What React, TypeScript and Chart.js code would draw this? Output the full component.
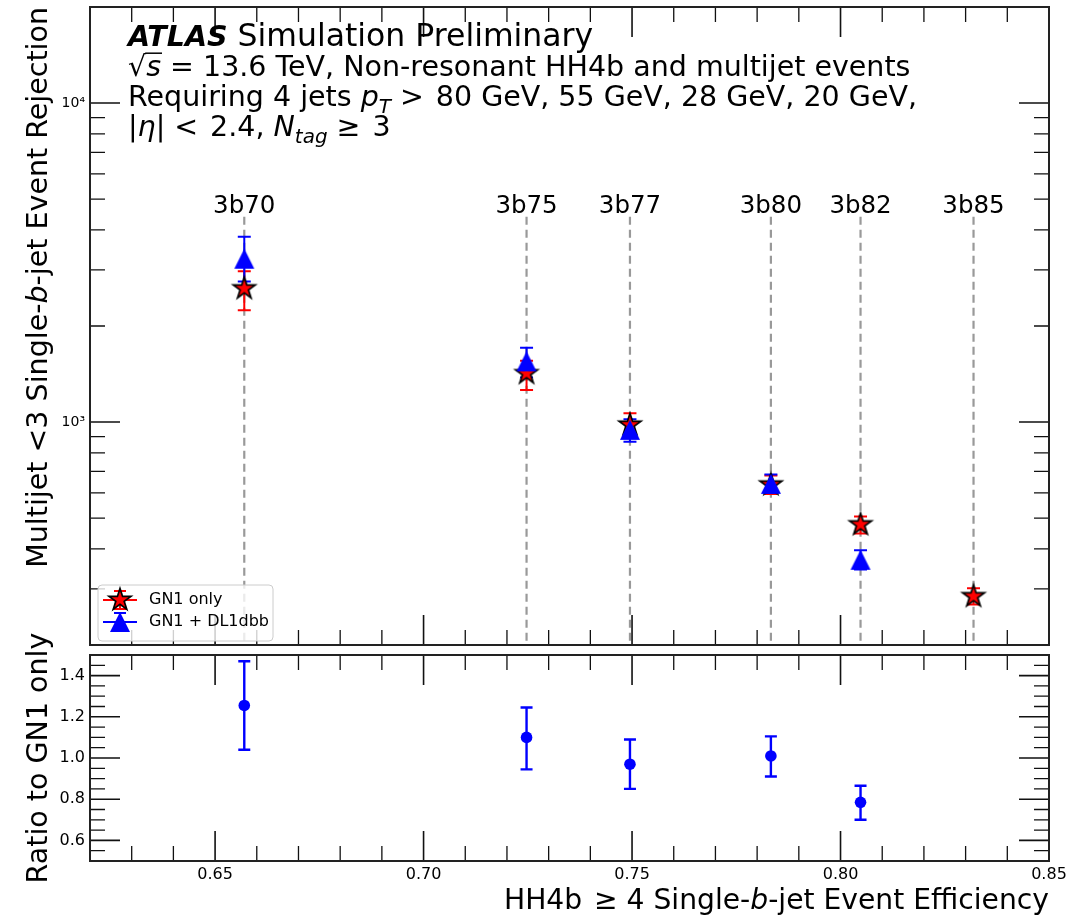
import { useEffect, useRef } from 'react';
import { Chart, registerables } from 'chart.js';

Chart.register(...registerables);

const WIDTH = 1081;
const HEIGHT = 917;
const FONT = '"DejaVu Sans", "Liberation Sans", sans-serif';

// Working points (HH4b efficiency on x, multijet rejection on y)
const wpLabels = ['3b70', '3b75', '3b77', '3b80', '3b82', '3b85'];
const wpEfficiency = [0.657, 0.7247, 0.7495, 0.7833, 0.8048, 0.8319];

const gn1Rejection = [2620, 1420, 980, 636, 477, 284];
const gn1Low = [2240, 1260, 905, 595, 447, 268];
const gn1High = [2970, 1555, 1065, 680, 506, 301];

const dl1Rejection = [3250, 1550, 945, 640, 370];
const dl1Low = [2760, 1380, 868, 600, 345];
const dl1High = [3810, 1710, 1020, 685, 396];

const ratioValues = [1.255, 1.1, 0.97, 1.01, 0.785];
const ratioLow = [1.04, 0.945, 0.85, 0.91, 0.7];
const ratioHigh = [1.47, 1.245, 1.09, 1.105, 0.865];

// Axis ticks
const xMajorTicks = [0.65, 0.7, 0.75, 0.8, 0.85];
const xMinorTicks = [0.63, 0.64, 0.66, 0.67, 0.68, 0.69, 0.71, 0.72, 0.73, 0.74, 0.76, 0.77, 0.78, 0.79, 0.81, 0.82, 0.83, 0.84];
const rejMajorTicks = [1000, 10000];
const rejMinorTicks = [300, 400, 500, 600, 700, 800, 900, 2000, 3000, 4000, 5000, 6000, 7000, 8000, 9000];
const ratioMajorTicks = [0.6, 0.8, 1.0, 1.2, 1.4];
const ratioMinorTicks = [0.55, 0.65, 0.7, 0.75, 0.85, 0.9, 0.95, 1.05, 1.1, 1.15, 1.25, 1.3, 1.35, 1.45];

const wpLineTop = 4400;

type Run = { t: string; style?: string; sub?: boolean; over?: boolean; size?: number };

function runSize(size: number, r: Run) {
  const base = r.size ?? size;
  return r.sub ? base * 0.7 : base;
}

function runFont(size: number, r: Run) {
  return `${r.style ?? 'normal'} ${runSize(size, r)}px ${FONT}`;
}

function measureRuns(ctx: CanvasRenderingContext2D, runs: Run[], size: number) {
  let w = 0;
  for (const r of runs) {
    ctx.font = runFont(size, r);
    w += ctx.measureText(r.t).width;
  }
  return w;
}

function drawRuns(ctx: CanvasRenderingContext2D, runs: Run[], x: number, y: number, size: number) {
  let cx = x;
  for (const r of runs) {
    ctx.font = runFont(size, r);
    const dy = r.sub ? size * 0.24 : 0;
    ctx.fillText(r.t, cx, y + dy);
    const w = ctx.measureText(r.t).width;
    if (r.over) {
      ctx.save();
      ctx.lineWidth = 1.5;
      ctx.strokeStyle = ctx.fillStyle as string;
      ctx.beginPath();
      ctx.moveTo(cx - 1, y - size * 0.8);
      ctx.lineTo(cx + w + 1, y - size * 0.8);
      ctx.stroke();
      ctx.restore();
    }
    cx += w;
  }
}

function makeStar(): HTMLCanvasElement {
  const c = document.createElement('canvas');
  c.width = 30;
  c.height = 30;
  const g = c.getContext('2d')!;
  const R = 11.5;
  const r = R * 0.381966;
  g.beginPath();
  for (let i = 0; i < 10; i++) {
    const a = -Math.PI / 2 + (i * Math.PI) / 5;
    const rad = i % 2 === 0 ? R : r;
    const px = 15 + rad * Math.cos(a);
    const py = 15 + rad * Math.sin(a);
    if (i === 0) g.moveTo(px, py);
    else g.lineTo(px, py);
  }
  g.closePath();
  g.fillStyle = '#ff0000';
  g.fill();
  g.lineWidth = 1.7;
  g.strokeStyle = '#000000';
  g.stroke();
  return c;
}

function makeTriangle(): HTMLCanvasElement {
  const c = document.createElement('canvas');
  c.width = 24;
  c.height = 24;
  const g = c.getContext('2d')!;
  g.beginPath();
  g.moveTo(12, 2);
  g.lineTo(2, 22);
  g.lineTo(22, 22);
  g.closePath();
  g.fillStyle = '#0000ff';
  g.fill();
  return c;
}

function drawFrameAndTicks(chart: any, yMajor: number[], yMinor: number[]) {
  const ctx: CanvasRenderingContext2D = chart.ctx;
  const { left, right, top, bottom } = chart.chartArea;
  const xs = chart.scales.x;
  const ys = chart.scales.y;
  ctx.save();
  ctx.strokeStyle = '#111';
  const tick = (vals: number[], len: number, lw: number) => {
    ctx.lineWidth = lw;
    ctx.beginPath();
    for (const v of vals) {
      const px = xs.getPixelForValue(v);
      ctx.moveTo(px, bottom);
      ctx.lineTo(px, bottom - len);
      ctx.moveTo(px, top);
      ctx.lineTo(px, top + len);
    }
    ctx.stroke();
  };
  const tickY = (vals: number[], len: number, lw: number) => {
    ctx.lineWidth = lw;
    ctx.beginPath();
    for (const v of vals) {
      const py = ys.getPixelForValue(v);
      ctx.moveTo(left, py);
      ctx.lineTo(left + len, py);
      ctx.moveTo(right, py);
      ctx.lineTo(right - len, py);
    }
    ctx.stroke();
  };
  tick(xMajorTicks, 30, 1.6);
  tick(xMinorTicks, 15, 1.3);
  tickY(yMajor, 30, 1.6);
  tickY(yMinor, 15, 1.3);
  ctx.lineWidth = 2;
  ctx.strokeStyle = '#222';
  ctx.strokeRect(left, top, right - left, bottom - top);
  ctx.restore();
}

function drawErrorBars(
  chart: any,
  xs: number[],
  lo: number[],
  hi: number[],
  color: string,
  capHalf: number,
  lw: number
) {
  const ctx: CanvasRenderingContext2D = chart.ctx;
  const sx = chart.scales.x;
  const sy = chart.scales.y;
  ctx.save();
  ctx.strokeStyle = color;
  ctx.lineWidth = lw;
  ctx.beginPath();
  for (let i = 0; i < lo.length; i++) {
    const px = sx.getPixelForValue(xs[i]);
    const p1 = sy.getPixelForValue(lo[i]);
    const p2 = sy.getPixelForValue(hi[i]);
    ctx.moveTo(px, p1);
    ctx.lineTo(px, p2);
    ctx.moveTo(px - capHalf, p1);
    ctx.lineTo(px + capHalf, p1);
    ctx.moveTo(px - capHalf, p2);
    ctx.lineTo(px + capHalf, p2);
  }
  ctx.stroke();
  ctx.restore();
}

function drawRotatedRuns(ctx: CanvasRenderingContext2D, runs: Run[], x: number, y: number, size: number, align: 'end' | 'center') {
  const w = measureRuns(ctx, runs, size);
  ctx.save();
  ctx.translate(x, y);
  ctx.rotate(-Math.PI / 2);
  ctx.fillStyle = '#000';
  ctx.textBaseline = 'alphabetic';
  ctx.textAlign = 'left';
  const start = align === 'end' ? -w : -w / 2;
  drawRuns(ctx, runs, start, 0, size);
  ctx.restore();
}

const TITLE_SIZE = 28.5;
const GAP = ' \u200A';

export default function App() {
  const topRef = useRef<HTMLCanvasElement>(null);
  const botRef = useRef<HTMLCanvasElement>(null);

  useEffect(() => {
    Chart.defaults.font.family = FONT;
    const star = makeStar();
    const tri = makeTriangle();

    const topDecor = {
      id: 'topDecor',
      beforeDatasetsDraw(chart: any) {
        const ctx: CanvasRenderingContext2D = chart.ctx;
        const sx = chart.scales.x;
        const sy = chart.scales.y;
        const bottom = chart.chartArea.bottom;
        const yTop = sy.getPixelForValue(wpLineTop);
        ctx.save();
        ctx.strokeStyle = '#999999';
        ctx.lineWidth = 2.2;
        ctx.setLineDash([8, 5]);
        for (const e of wpEfficiency) {
          const px = sx.getPixelForValue(e);
          ctx.beginPath();
          ctx.moveTo(px, yTop);
          ctx.lineTo(px, bottom);
          ctx.stroke();
        }
        ctx.setLineDash([]);
        ctx.fillStyle = '#000';
        ctx.font = `24.5px ${FONT}`;
        ctx.textAlign = 'center';
        ctx.textBaseline = 'alphabetic';
        wpLabels.forEach((lab, i) => {
          ctx.fillText(lab, sx.getPixelForValue(wpEfficiency[i]), yTop - 4);
        });
        ctx.restore();
        drawErrorBars(chart, wpEfficiency, gn1Low, gn1High, '#ff0000', 6.5, 2);
        drawErrorBars(chart, wpEfficiency, dl1Low, dl1High, '#0000ff', 6.5, 2);
      },
      afterDraw(chart: any) {
        const ctx: CanvasRenderingContext2D = chart.ctx;
        drawFrameAndTicks(chart, rejMajorTicks, rejMinorTicks);
        ctx.save();
        ctx.fillStyle = '#000';
        ctx.textAlign = 'left';
        ctx.textBaseline = 'alphabetic';
        const size = 28.5;
        const x0 = 128;
        drawRuns(ctx, [{ t: 'ATLAS', style: 'italic bold', size: 28.5 }, { t: ' Simulation Preliminary', size: 31.5 }], x0, 46, size);
        drawRuns(
          ctx,
          [{ t: '√' }, { t: 's', style: 'italic', over: true }, { t: ' = 13.6 TeV, Non-resonant HH4b and multijet events' }],
          x0,
          76,
          size
        );
        drawRuns(
          ctx,
          [
            { t: 'Requiring 4 jets ' },
            { t: 'p', style: 'italic' },
            { t: 'T', style: 'italic', sub: true },
            { t: ` >${GAP}80 GeV, 55 GeV, 28 GeV, 20 GeV,` },
          ],
          x0,
          106,
          size
        );
        drawRuns(
          ctx,
          [
            { t: '|' },
            { t: 'η', style: 'italic' },
            { t: `| <${GAP}2.4, ` },
            { t: 'N', style: 'italic' },
            { t: 'tag', style: 'italic', sub: true },
            { t: ` ≥${GAP}3` },
          ],
          x0,
          136,
          size
        );
        ctx.restore();

        drawRotatedRuns(
          ctx,
          [{ t: 'Multijet <3 Single-' }, { t: 'b', style: 'italic' }, { t: '-jet Event Rejection' }],
          47,
          chart.chartArea.top,
          TITLE_SIZE,
          'end'
        );

        // legend
        ctx.save();
        const lx = 98;
        const ly = 585;
        const lw = 175;
        const lh = 56;
        ctx.beginPath();
        ctx.roundRect(lx, ly, lw, lh, 4);
        ctx.fillStyle = 'rgba(255,255,255,0.8)';
        ctx.fill();
        ctx.strokeStyle = '#cccccc';
        ctx.lineWidth = 1;
        ctx.stroke();
        const entries = [
          { label: chart.data.datasets[1].label, color: '#ff0000', img: star, cy: 600 },
          { label: chart.data.datasets[0].label, color: '#0000ff', img: tri, cy: 622 },
        ];
        for (const e of entries) {
          ctx.strokeStyle = e.color;
          ctx.lineWidth = 2;
          ctx.beginPath();
          ctx.moveTo(103, e.cy);
          ctx.lineTo(137, e.cy);
          ctx.moveTo(120, e.cy - 9);
          ctx.lineTo(120, e.cy + 9);
          ctx.moveTo(114, e.cy - 9);
          ctx.lineTo(126, e.cy - 9);
          ctx.moveTo(114, e.cy + 9);
          ctx.lineTo(126, e.cy + 9);
          ctx.stroke();
          ctx.drawImage(e.img, 120 - e.img.width / 2, e.cy - e.img.height / 2);
          ctx.fillStyle = '#000';
          ctx.font = `16px ${FONT}`;
          ctx.textBaseline = 'middle';
          ctx.textAlign = 'left';
          ctx.fillText(e.label, 149, e.cy);
        }
        ctx.restore();
      },
    };

    const botDecor = {
      id: 'botDecor',
      beforeDatasetsDraw(chart: any) {
        drawErrorBars(chart, wpEfficiency, ratioLow, ratioHigh, '#0000ff', 6, 2.4);
      },
      afterDraw(chart: any) {
        const ctx: CanvasRenderingContext2D = chart.ctx;
        drawFrameAndTicks(chart, ratioMajorTicks, ratioMinorTicks);
        const { top, bottom, right } = chart.chartArea;
        drawRotatedRuns(ctx, [{ t: 'Ratio to GN1 only' }], 47, (top + bottom) / 2, TITLE_SIZE, 'center');
        const xSize = 28.2;
        const runs: Run[] = [{ t: `HH4b${GAP}≥ 4 Single-` }, { t: 'b', style: 'italic' }, { t: '-jet Event Efficiency' }];
        const w = measureRuns(ctx, runs, xSize);
        ctx.save();
        ctx.fillStyle = '#000';
        ctx.textAlign = 'left';
        ctx.textBaseline = 'alphabetic';
        drawRuns(ctx, runs, right - w, 909, xSize);
        ctx.restore();
      },
    };

    const common = {
      responsive: false,
      animation: false as const,
      devicePixelRatio: 1,
      events: [] as any[],
    };

    const topChart = new Chart(topRef.current!, {
      type: 'scatter',
      data: {
        datasets: [
          {
            label: 'GN1 + DL1dbb',
            data: dl1Rejection.map((v, i) => ({ x: wpEfficiency[i], y: v })),
            pointStyle: tri,
            order: 1,
          },
          {
            label: 'GN1 only',
            data: gn1Rejection.map((v, i) => ({ x: wpEfficiency[i], y: v })),
            pointStyle: star,
            order: 2,
          },
        ],
      },
      options: {
        ...common,
        layout: { padding: { left: 0, top: 7, right: 32, bottom: 272 } },
        plugins: { legend: { display: false }, tooltip: { enabled: false } },
        scales: {
          x: { type: 'linear', min: 0.62, max: 0.85, bounds: 'data', display: false },
          y: {
            type: 'logarithmic',
            min: 200,
            max: 20000,
            bounds: 'data',
            grid: { display: false, drawTicks: false },
            border: { display: false },
            afterBuildTicks: (s: any) => {
              s.ticks = rejMajorTicks.map((v) => ({ value: v }));
            },
            afterFit: (s: any) => {
              s.width = 90;
              s.paddingTop = 0;
              s.paddingBottom = 0;
            },
            ticks: {
              padding: 5,
              color: '#000',
              font: { size: 14 },
              autoSkip: false,
              callback: (v: any) => (v === 1000 ? '10³' : v === 10000 ? '10⁴' : ''),
            },
          },
        },
      },
      plugins: [topDecor],
    } as any);

    const botChart = new Chart(botRef.current!, {
      type: 'scatter',
      data: {
        datasets: [
          {
            label: 'GN1 + DL1dbb / GN1 only',
            data: ratioValues.map((v, i) => ({ x: wpEfficiency[i], y: v })),
            pointStyle: 'circle',
            pointRadius: 5.8,
            backgroundColor: '#0000ff',
            borderWidth: 0,
          },
        ],
      },
      options: {
        ...common,
        layout: { padding: { left: 0, top: 655, right: 32, bottom: 0 } },
        plugins: { legend: { display: false }, tooltip: { enabled: false } },
        scales: {
          x: {
            type: 'linear',
            min: 0.62,
            max: 0.85,
            bounds: 'data',
            grid: { display: false, drawTicks: false },
            border: { display: false },
            afterBuildTicks: (s: any) => {
              s.ticks = xMajorTicks.map((v) => ({ value: v }));
            },
            afterFit: (s: any) => {
              s.height = 56;
              s.paddingLeft = 0;
              s.paddingRight = 0;
            },
            ticks: {
              padding: 4,
              color: '#000',
              font: { size: 16 },
              maxRotation: 0,
              autoSkip: false,
              callback: (v: any) => Number(v).toFixed(2),
            },
          },
          y: {
            type: 'linear',
            min: 0.5,
            max: 1.5,
            bounds: 'data',
            grid: { display: false, drawTicks: false },
            border: { display: false },
            afterBuildTicks: (s: any) => {
              s.ticks = ratioMajorTicks.map((v) => ({ value: v }));
            },
            afterFit: (s: any) => {
              s.width = 90;
              s.paddingTop = 0;
              s.paddingBottom = 0;
            },
            ticks: {
              padding: 5,
              color: '#000',
              font: { size: 16 },
              autoSkip: false,
              callback: (v: any) => Number(v).toFixed(1),
            },
          },
        },
      },
      plugins: [botDecor],
    } as any);

    return () => {
      topChart.destroy();
      botChart.destroy();
    };
  }, []);

  return (
    <div style={{ position: 'absolute', left: 0, top: 0, width: WIDTH, height: HEIGHT, background: '#fff' }}>
      <canvas ref={botRef} width={WIDTH} height={HEIGHT} style={{ position: 'absolute', left: 0, top: 0 }} />
      <canvas ref={topRef} width={WIDTH} height={HEIGHT} style={{ position: 'absolute', left: 0, top: 0 }} />
    </div>
  );
}
